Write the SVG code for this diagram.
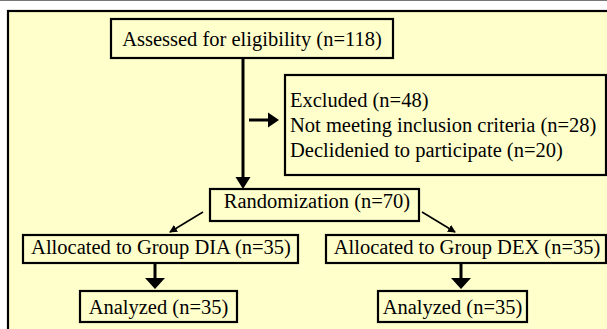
<svg xmlns="http://www.w3.org/2000/svg" width="607" height="329" viewBox="0 0 607 329">
<defs>
<style>
.box{fill:#FFFFCC;stroke:#000;stroke-width:2.2}
.t{font-family:"Liberation Serif","Times New Roman",serif;font-size:20.5px;fill:#000}
.thick{stroke:#000;stroke-width:3;fill:none}
.thin{stroke:#000;stroke-width:1.6;fill:none}
.head{fill:#000}
</style>
<marker id="ah" markerWidth="8" markerHeight="8" refX="7" refY="4" orient="auto" markerUnits="userSpaceOnUse">
<path d="M0,0 L8,4 L0,8 Z" fill="#000"/>
</marker>
</defs>
<rect x="0" y="0" width="607" height="329" fill="#fff"/>
<line x1="0" y1="0.5" x2="607" y2="0.5" stroke="#777" stroke-width="1"/>
<rect x="8" y="11" width="610" height="330" fill="#FFFFCC" stroke="#000" stroke-width="2.2"/>
<g id="connectors">
<line class="thick" x1="243" y1="58" x2="243" y2="178"/>
<path class="head" d="M235.5,177 L250.5,177 L243,189 Z"/>
<line class="thick" x1="249" y1="120" x2="269" y2="120"/>
<path class="head" d="M268,112.5 L279,120 L268,127.5 Z"/>
<line class="thin" x1="203" y1="212" x2="170" y2="232" marker-end="url(#ah)"/>
<line class="thin" x1="422" y1="212" x2="455" y2="232" marker-end="url(#ah)"/>
<line class="thick" x1="155" y1="263" x2="155" y2="279"/>
<path class="head" d="M145,278 L165,278 L155,289 Z"/>
<line class="thick" x1="461" y1="263" x2="461" y2="279"/>
<path class="head" d="M451,278 L471,278 L461,289 Z"/>
</g>
<g id="assessed">
<rect class="box" x="111" y="19" width="282" height="39"/>
<text class="t" x="252" y="46" text-anchor="middle">Assessed for eligibility (n=118)</text>
</g>
<g id="excluded">
<rect class="box" x="285" y="75" width="321" height="100"/>
<text class="t" x="290" y="107">Excluded (n=48)</text>
<text class="t" x="290" y="132">Not meeting inclusion criteria (n=28)</text>
<text class="t" x="290" y="157">Declidenied to participate (n=20)</text>
</g>
<g id="randomization">
<rect class="box" x="210" y="189" width="209" height="32"/>
<text class="t" x="317" y="208" text-anchor="middle">Randomization (n=70)</text>
</g>
<g id="groupDIA">
<rect class="box" x="23" y="235" width="275" height="28"/>
<text class="t" x="161" y="254" text-anchor="middle">Allocated to Group DIA (n=35)</text>
</g>
<g id="groupDEX">
<rect class="box" x="326" y="235" width="280" height="28"/>
<text class="t" x="467" y="254" text-anchor="middle">Allocated to Group DEX (n=35)</text>
</g>
<g id="analyzedDIA">
<rect class="box" x="80" y="291" width="157" height="31"/>
<text class="t" x="158.5" y="314" text-anchor="middle">Analyzed (n=35)</text>
</g>
<g id="analyzedDEX">
<rect class="box" x="378" y="291" width="149" height="31"/>
<text class="t" x="452.5" y="314" text-anchor="middle">Analyzed (n=35)</text>
</g>
</svg>
